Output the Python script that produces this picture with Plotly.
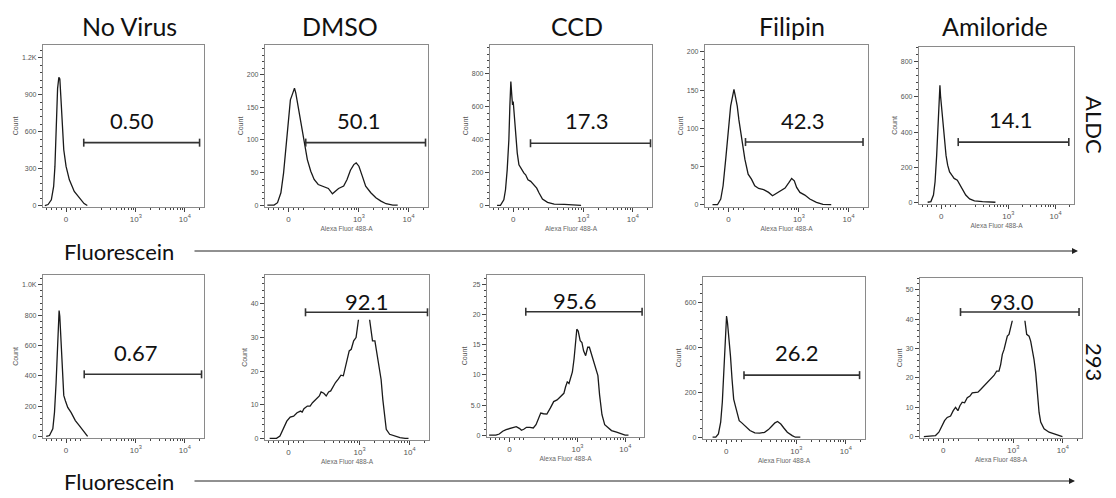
import plotly.graph_objects as go
import math

# ---------------- text ----------------
col_titles = ["No Virus", "DMSO", "CCD", "Filipin", "Amiloride"]
row_labels = ["ALDC", "293"]
x_tick_text = ["0", "10<sup>3</sup>", "10<sup>4</sup>"]
x_tick_vals = [0, 1.42, 2.42]          # display (biexponential) units
x_title = "Alexa Fluor 488-A"
axis_word = "Fluorescein"

# ---------------- histogram data (x in display units, y = Count) ----------------
nv_aldc_x = [-0.433, -0.367, -0.3, -0.253, -0.227, -0.2, -0.173, -0.147, -0.127, -0.107, -0.08, -0.047, 0, 0.067, 0.167, 0.267, 0.367, 0.433]
nv_aldc_y = [0, 8, 46, 155, 318, 671, 950, 1043, 1029, 888, 644, 453, 318, 209, 114, 60, 16, 0]

dmso_aldc_x = [-0.423, -0.287, -0.218, -0.15, -0.096, -0.048, 0, 0.041, 0.089, 0.123, 0.15, 0.191, 0.246, 0.314, 0.382, 0.451, 0.519, 0.601, 0.703, 0.805, 0.887, 0.942, 1.01, 1.113, 1.181, 1.249, 1.317, 1.365, 1.42, 1.488, 1.556, 1.659, 1.761, 1.863, 1.966, 2.102, 2.2]
dmso_aldc_y = [0, 0, 3.6, 18.9, 49.5, 90.3, 136, 161.7, 172, 179.6, 172, 154, 126, 95.4, 69.9, 52, 39.3, 31.6, 29.1, 25.5, 17.3, 21.4, 25.5, 29.1, 39.3, 53.6, 62.2, 64.8, 59.7, 44.4, 29.1, 18.9, 11.2, 6.1, 2, 0, 0]

ccd_aldc_x = [-0.327, -0.259, -0.19, -0.156, -0.122, -0.088, -0.068, -0.048, -0.027, -0.014, 0, 0.02, 0.048, 0.082, 0.116, 0.15, 0.184, 0.218, 0.252, 0.299, 0.354, 0.422, 0.476, 0.524, 0.592, 0.694, 0.83, 1.034, 1.17, 1.374]
ccd_aldc_y = [0, 0, 34, 95, 216, 399, 601, 753, 662, 611, 632, 540, 419, 318, 247, 227, 213, 196, 186, 156, 146, 126, 105, 75, 38, 18, 8, 6, 2, 0]

fil_aldc_x = [-0.319, -0.219, -0.153, -0.106, -0.053, 0, 0.046, 0.08, 0.113, 0.146, 0.179, 0.212, 0.279, 0.332, 0.398, 0.465, 0.531, 0.61, 0.71, 0.81, 0.889, 0.975, 1.075, 1.141, 1.221, 1.274, 1.327, 1.374, 1.44, 1.539, 1.639, 1.772, 1.904, 2.07]
fil_aldc_y = [0, 0, 7.4, 24.8, 59.6, 103, 129, 140, 150.9, 140, 129, 111, 85, 59.6, 40, 33.5, 24.8, 21.3, 19.6, 16.1, 11.7, 15.2, 18.3, 21.7, 29.1, 34.3, 31.3, 22.6, 16.1, 12.6, 7.4, 3, 0.4, 0]

ami_aldc_x = [-0.287, -0.218, -0.164, -0.13, -0.096, -0.068, -0.041, -0.027, -0.014, 0, 0.02, 0.041, 0.068, 0.102, 0.137, 0.177, 0.225, 0.273, 0.341, 0.396, 0.451, 0.519, 0.601, 0.703, 0.874, 1.078, 1.147]
ami_aldc_y = [0, 3.8, 41, 117, 267, 456, 625, 667, 606, 559, 531, 456, 362, 267, 211, 173, 154, 136, 126, 98, 70, 41, 19, 8, 4, 2, 0]

nv_293_x = [-0.405, -0.338, -0.27, -0.236, -0.203, -0.176, -0.155, -0.142, -0.128, -0.108, -0.081, -0.047, -0.014, 0.034, 0.101, 0.189, 0.27, 0.372, 0.439]
nv_293_y = [0, 6.5, 50, 159, 356, 596, 771, 830, 793, 642, 445, 271, 236, 192, 159, 105, 72, 28, 0]

dmso_293_x = [-0.377, -0.24, -0.171, -0.103, -0.034, 0.034, 0.103, 0.171, 0.24, 0.274, 0.309, 0.377, 0.432, 0.48, 0.549, 0.617, 0.652, 0.706, 0.754, 0.802, 0.844, 0.892, 0.94, 0.995, 1.049, 1.097, 1.132, 1.173, 1.214, 1.255, 1.303, 1.351, 1.392, 1.433, 1.488, 1.543, 1.598, 1.639, 1.68, 1.728, 1.763, 1.804, 1.852, 1.886, 1.92, 1.955, 2.023, 2.126, 2.229, 2.332, 2.4]
dmso_293_y = [0, 0, 0.7, 2.7, 5.1, 6.3, 6.6, 7.6, 8.1, 7.8, 8.8, 9.6, 9.6, 10.6, 11.6, 12.6, 13.8, 13.4, 12.6, 13.8, 14.1, 15.6, 16.6, 17.6, 18.8, 18.6, 20.6, 23.1, 26.0, 26.5, 29.0, 30.0, 34.8, 39, 43, 42, 38, 33.3, 29.0, 29.0, 26.0, 22.5, 17.5, 11.6, 6.6, 2.7, 1.2, 0.7, 0.2, 0, 0]

ccd_293_x = [-0.426, -0.284, -0.213, -0.142, -0.071, 0, 0.071, 0.142, 0.213, 0.249, 0.298, 0.355, 0.426, 0.497, 0.554, 0.604, 0.653, 0.71, 0.781, 0.852, 0.923, 0.994, 1.065, 1.136, 1.172, 1.207, 1.243, 1.278, 1.314, 1.349, 1.385, 1.406, 1.435, 1.477, 1.513, 1.548, 1.591, 1.634, 1.669, 1.705, 1.754, 1.811, 1.847, 1.882, 1.932, 1.989, 2.06, 2.131, 2.237, 2.344, 2.415, 2.486]
ccd_293_y = [0, 0, 0.2, 0.66, 0.93, 1.09, 1.31, 1.42, 1.09, 0.82, 0.98, 1.31, 1.31, 1.2, 1.75, 2.84, 3.67, 3.56, 3.5, 4.49, 5.58, 5.85, 6.4, 6.95, 8.04, 8.86, 8.59, 9.41, 10.5, 12.7, 15.4, 17.6, 17.3, 15.7, 15.4, 14.0, 13.2, 14.6, 14.6, 13.7, 12.6, 11.0, 9.9, 6.7, 3.4, 1.75, 1.2, 0.77, 0.49, 0.22, 0, 0]

fil_293_x = [-0.276, -0.211, -0.158, -0.112, -0.079, -0.046, -0.013, 0.007, 0.026, 0.053, 0.086, 0.118, 0.151, 0.184, 0.217, 0.263, 0.316, 0.382, 0.48, 0.579, 0.678, 0.776, 0.855, 0.921, 0.987, 1.039, 1.105, 1.171, 1.237, 1.336, 1.401, 1.5]
fil_293_y = [0, 0, 15, 67, 156, 304, 481, 541, 511, 452, 363, 259, 170, 141, 111, 74, 64, 52, 30, 19, 18, 22, 34, 49, 64, 70, 59, 40, 22, 7, 0, 0]

ami_293_x = [-0.392, -0.257, -0.156, -0.088, -0.02, 0.027, 0.081, 0.149, 0.203, 0.25, 0.298, 0.338, 0.385, 0.433, 0.487, 0.541, 0.588, 0.642, 0.703, 0.757, 0.825, 0.893, 0.96, 1.028, 1.082, 1.129, 1.163, 1.197, 1.231, 1.265, 1.298, 1.332, 1.366, 1.406, 1.46, 1.528, 1.596, 1.65, 1.69, 1.738, 1.771, 1.805, 1.839, 1.873, 1.907, 1.941, 1.974, 2.042, 2.143, 2.245, 2.346, 2.414]
ami_293_y = [0, 0.2, 0.34, 1.47, 3.7, 5.4, 6.5, 7.0, 8.8, 9.9, 8.8, 10.5, 11.7, 11.5, 13.2, 13.8, 14.9, 15.1, 15.1, 16.0, 17.2, 18.3, 19.4, 20.8, 22.3, 22.3, 24.5, 28.0, 29.6, 32.5, 34.2, 34.8, 37.6, 40, 44, 46, 44, 40, 34.8, 34.2, 32.5, 29.6, 26.2, 21.7, 13.8, 8.2, 4.9, 2.6, 1.47, 0.9, 0.34, 0]

curves_x = [nv_aldc_x, dmso_aldc_x, ccd_aldc_x, fil_aldc_x, ami_aldc_x,
            nv_293_x, dmso_293_x, ccd_293_x, fil_293_x, ami_293_x]
curves_y = [nv_aldc_y, dmso_aldc_y, ccd_aldc_y, fil_aldc_y, ami_aldc_y,
            nv_293_y, dmso_293_y, ccd_293_y, fil_293_y, ami_293_y]

# ---------------- gates ----------------
gate_pct = ["0.50", "50.1", "17.3", "42.3", "14.1", "0.67", "92.1", "95.6", "26.2", "93.0"]
gate_lo = [0.36, 0.35, 0.35, 0.345, 0.36, 0.37, 0.34, 0.34, 0.36, 0.35]
gate_hi = [2.72, 2.76, 2.78, 2.71, 2.70, 2.76, 2.78, 2.77, 2.70, 2.75]
gate_level = [511, 96, 378, 82, 343, 410, 37.5, 20.5, 277, 42.4]
label_x = [1.35, 1.42, 1.48, 1.49, 1.47, 1.405, 1.56, 1.35, 1.42, 1.40]
label_y = [689, 130, 514, 110, 469, 557, 40.7, 22.3, 378, 46]
# count level above which the label's white background hides the curve
hidden_above = [None, None, None, None, None, None, 35.3, None, None, 39.4]

# ---------------- y axes ----------------
y_max = [1305, 246, 976, 209, 885, 1065, 48.6, 26.6, 715, 54]
y_min = [-12, -3, -10, -3, -10, -10, -0.5, -0.3, -8, -0.5]
y_step = [300, 50, 200, 50, 200, 200, 10, 5, 200, 10]
y_ticks = [[0, 300, 600, 900, 1200], [0, 50, 100, 150, 200], [0, 200, 400, 600, 800],
           [0, 50, 100, 150, 200], [0, 200, 400, 600, 800], [0, 200, 400, 600, 800, 1000],
           [0, 10, 20, 30, 40], [0, 5, 10, 15, 20, 25], [0, 200, 400, 600], [0, 10, 20, 30, 40, 50]]
y_tick_text = [["0", "300", "600", "900", "1.2K"], ["0", "50", "100", "150", "200"],
               ["0", "200", "400", "600", "800"], ["0", "50", "100", "150", "200"],
               ["0", "200", "400", "600", "800"], ["0", "200", "400", "600", "800", "1.0K"],
               ["0", "10", "20", "30", "40"], ["0", "5.0", "10", "15", "20", "25"],
               ["0", "200", "400", "600"], ["0", "10", "20", "30", "40", "50"]]

# ---------------- layout geometry (pixels) ----------------
W, H = 1116, 498
boxes = [(43, 45, 204, 207), (265, 45, 428, 207), (490, 45, 652, 207), (705, 45, 868, 207), (919, 47, 1074, 204),
         (43, 275, 204, 438), (265, 275, 429, 440), (487, 275, 644, 437), (703, 277, 865, 439), (920, 278, 1082, 438)]
X_RANGE = [-0.47, 2.81]

minor_x = [-0.4, -0.3, -0.2, -0.1, 0.1, 0.2, 0.3] + \
          [1.42 + math.log10(v / 1000) for v in range(200, 1000, 100)] + \
          [2.42 + math.log10(v / 10000) for v in range(2000, 10000, 1000)] + [2.72]

fig = go.Figure()
layout = dict(width=W, height=H, margin=dict(l=0, r=0, t=0, b=0, autoexpand=False),
              paper_bgcolor="white", plot_bgcolor="white", showlegend=False,
              shapes=[], annotations=[])

small_font = dict(family="Liberation Sans, Arial", size=7, color="#555")
for i in range(10):
    xa = "xaxis" if i == 0 else f"xaxis{i+1}"
    ya = "yaxis" if i == 0 else f"yaxis{i+1}"
    xr = "x" if i == 0 else f"x{i+1}"
    yr = "y" if i == 0 else f"y{i+1}"
    x0, y0, x1, y1 = boxes[i]
    layout[xa] = dict(domain=[x0 / W, x1 / W], range=X_RANGE, anchor=yr, automargin=False,
                      tickmode="array", tickvals=x_tick_vals, ticktext=x_tick_text,
                      ticks="outside", ticklen=4, tickcolor="#444", tickwidth=1,
                      minor=dict(tickmode="array", tickvals=minor_x, ticks="outside", ticklen=2, tickcolor="#444"),
                      showline=True, linecolor="#8a8a8a", linewidth=1.2, mirror=True,
                      showgrid=False, zeroline=False, fixedrange=True,
                      tickfont=dict(family="Liberation Sans, Arial", size=8, color="#555"))
    if i not in (0, 5):
        layout[xa]["title"] = dict(text=x_title, font=dict(family="Liberation Sans, Arial", size=6.5, color="#666"), standoff=3)
    layout[ya] = dict(domain=[1 - y1 / H, 1 - y0 / H], range=[y_min[i], y_max[i]], anchor=xr, automargin=False,
                      tickmode="array", tickvals=y_ticks[i], ticktext=y_tick_text[i],
                      ticks="outside", ticklen=4, tickcolor="#444", tickwidth=1,
                      minor=dict(tickmode="linear", tick0=0, dtick=y_step[i] / 5, ticks="outside", ticklen=2, tickcolor="#444"),
                      showline=True, linecolor="#8a8a8a", linewidth=1.2, mirror=True,
                      showgrid=False, zeroline=False, fixedrange=True,
                      tickfont=small_font,
                      title=dict(text="Count", font=small_font, standoff=2))

    fig.add_trace(go.Scatter(x=curves_x[i], y=curves_y[i], mode="lines", xaxis=xr, yaxis=yr,
                             line=dict(color="#1a1a1a", width=1.3), hoverinfo="skip"))

    # white background of the label hiding the curve top
    if hidden_above[i] is not None:
        layout["shapes"].append(dict(type="rect", xref=xr, yref=yr, layer="above",
                                     x0=label_x[i] - 0.45, x1=label_x[i] + 0.45,
                                     y0=hidden_above[i], y1=y_max[i] * 0.97,
                                     fillcolor="white", line=dict(width=0)))
    # gate bar
    layout["shapes"].append(dict(type="line", xref=xr, yref=yr, layer="above",
                                 x0=gate_lo[i], x1=gate_hi[i], y0=gate_level[i], y1=gate_level[i],
                                 line=dict(color="#333", width=1.6)))
    for gx in (gate_lo[i], gate_hi[i]):
        layout["shapes"].append(dict(type="line", xref=xr, yref=yr, layer="above",
                                     x0=gx, x1=gx, ysizemode="pixel", yanchor=gate_level[i], y0=-4, y1=4,
                                     line=dict(color="#333", width=1.6)))
    layout["annotations"].append(dict(xref=xr, yref=yr, x=label_x[i], y=label_y[i], text=gate_pct[i],
                                      xanchor="center", yanchor="middle",
                                      showarrow=False, font=dict(family="Lato", size=22, color="#111")))

# column titles
title_cx = [129, 340, 577, 792, 995]
for t, cx in zip(col_titles, title_cx):
    layout["annotations"].append(dict(xref="paper", yref="paper", x=cx / W, y=1 - 26 / H, text=t,
                                      xanchor="center", yanchor="middle",
                                      showarrow=False, font=dict(family="Lato", size=25, color="#111")))
# row labels
for t, cy in zip(row_labels, [125, 362]):
    layout["annotations"].append(dict(xref="paper", yref="paper", x=1095 / W, y=1 - cy / H, text=t,
                                      xanchor="center", yanchor="middle",
                                      textangle=90, showarrow=False, font=dict(family="Lato", size=22, color="#111")))
# Fluorescein arrows
for cy, x_end in [(251, 1078), (481, 1075)]:
    layout["annotations"].append(dict(xref="paper", yref="paper", x=119 / W, y=1 - cy / H, text=axis_word,
                                      xanchor="center", yanchor="middle",
                                      showarrow=False, font=dict(family="Lato", size=22, color="#111")))
    layout["annotations"].append(dict(xref="paper", yref="paper", x=x_end / W, y=1 - cy / H, text="",
                                      showarrow=True, ax=-(x_end - 193), ay=0, arrowhead=2, arrowsize=1.2,
                                      arrowwidth=1, arrowcolor="#222"))

fig.update_layout(**layout)
fig.write_html("out.html", config={"displayModeBar": False},
               post_script="document.body.style.margin='0';document.body.style.overflow='hidden';")
